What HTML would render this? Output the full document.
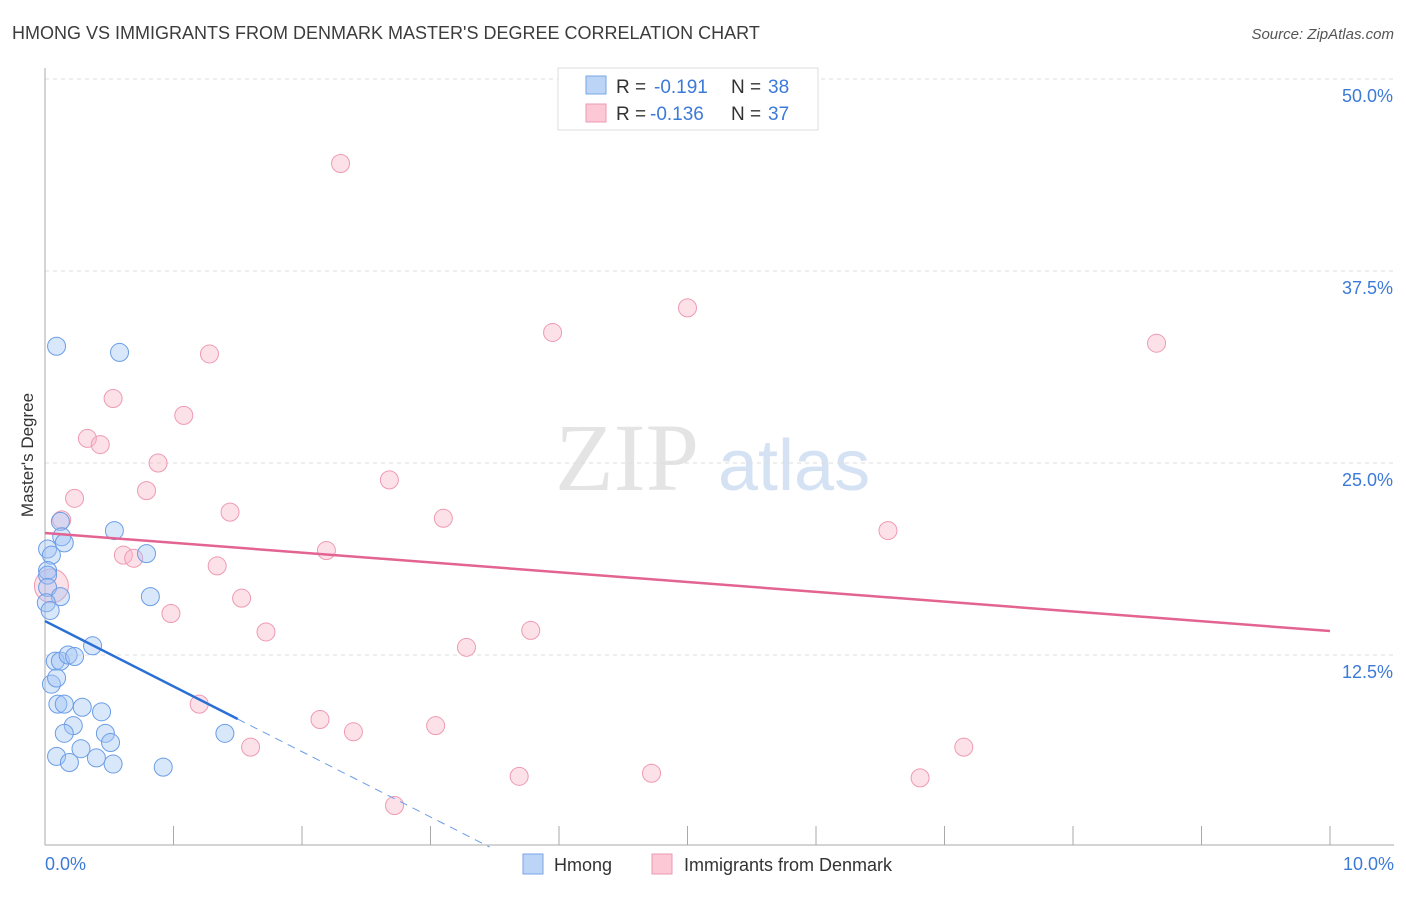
<!DOCTYPE html>
<html><head><meta charset="utf-8"><style>
body{margin:0;background:#fff;font-family:"Liberation Sans",sans-serif}
</style></head><body>
<svg id="c" width="1406" height="892" xmlns="http://www.w3.org/2000/svg">
<text x="12" y="39" font-size="18" fill="#3c3c3c">HMONG VS IMMIGRANTS FROM DENMARK MASTER'S DEGREE CORRELATION CHART</text>
<text x="1394" y="39" font-size="15" fill="#555" font-style="italic" text-anchor="end">Source: ZipAtlas.com</text>
<text x="33" y="455" font-size="17" fill="#333" text-anchor="middle" transform="rotate(-90 33 455)">Master's Degree</text>
<text x="555" y="490" font-size="96" fill="#e4e4e4" font-family="Liberation Serif,serif">ZIP</text>
<text x="718" y="490" font-size="72" fill="#d4e2f4">atlas</text>
<g id="grid"></g><g id="pts"></g><g id="lines"></g>
<g>
<rect x="558" y="68" width="260" height="62" fill="#fff" stroke="#ddd"/>
<rect x="586" y="76" width="20" height="18" fill="#bcd4f6" stroke="#7aa6e6"/>
<rect x="586" y="104" width="20" height="18" fill="#fcc8d6" stroke="#ee9ab2"/>
<text y="93" font-size="19" fill="#333"><tspan x="616">R =</tspan><tspan x="654" fill="#3c7ad8">-0.191</tspan><tspan x="731">N =</tspan><tspan x="768" fill="#3c7ad8">38</tspan></text>
<text y="120" font-size="19" fill="#333"><tspan x="616">R =</tspan><tspan x="650" fill="#3c7ad8">-0.136</tspan><tspan x="731">N =</tspan><tspan x="768" fill="#3c7ad8">37</tspan></text>
</g>
<g>
<rect x="523" y="854" width="20" height="20" fill="#bcd4f6" stroke="#7aa6e6"/>
<text x="554" y="871" font-size="18" fill="#333">Hmong</text>
<rect x="652" y="854" width="20" height="20" fill="#fcc8d6" stroke="#ee9ab2"/>
<text x="684" y="871" font-size="18" fill="#333">Immigrants from Denmark</text>
</g>
</svg>
<script>
const yTicks=[12.5,25,37.5,50];
const yTickLabels=["12.5%","25.0%","37.5%","50.0%"];
const hmongX=[0.09,0.58,0.12,0.54,0.13,0.15,0.02,0.05,0.79,0.02,0.02,0.02,0.12,0.82,0.01,0.04,0.37,0.08,0.12,0.18,0.23,0.05,0.09,0.1,0.15,0.29,0.44,0.22,0.15,0.47,0.51,1.40,0.28,0.09,0.19,0.40,0.53,0.92];
const hmongY=[32.6,32.2,21.2,20.6,20.2,19.8,19.4,19.0,19.1,18.0,17.7,16.9,16.3,16.3,15.9,15.4,13.1,12.1,12.1,12.5,12.4,10.6,11.0,9.3,9.3,9.1,8.8,7.9,7.4,7.4,6.8,7.4,6.4,5.9,5.5,5.8,5.4,5.2];
const denX=[2.30,5.00,3.95,8.65,1.28,0.53,1.08,0.33,0.43,0.88,0.79,0.23,2.68,1.44,3.10,0.13,6.56,2.19,0.61,0.69,1.34,0.05,1.53,0.98,1.72,3.78,3.28,1.20,2.14,2.40,3.04,1.60,7.15,3.69,4.72,6.81,2.72];
const denY=[44.5,35.1,33.5,32.8,32.1,29.2,28.1,26.6,26.2,25.0,23.2,22.7,23.9,21.8,21.4,21.3,20.6,19.3,19.0,18.8,18.3,17.0,16.2,15.2,14.0,14.1,13.0,9.3,8.3,7.5,7.9,6.5,6.5,4.6,4.8,4.5,2.7];
const hmongLine=[14.71,8.33], hmongLineX=[0,1.5], hmongDashEnd=3.46;
const denLine=[20.44,14.06];
const X=v=>45+v*128.5, Y=v=>847-v*15.36;
const NS="http://www.w3.org/2000/svg";
function mk(t,a,p){const e=document.createElementNS(NS,t);for(const k in a)e.setAttribute(k,a[k]);p.appendChild(e);return e;}
const grid=document.getElementById('grid');
yTicks.forEach((t,i)=>{
 const l=mk('line',{x1:45,x2:1394,y1:Y(t),y2:Y(t),stroke:'#ddd','stroke-dasharray':'4,4'},grid);
 
 
 const tx=mk('text',{x:1393,y:Y(t)+23,'font-size':18,fill:'#3c7ad8','text-anchor':'end'},grid);
 tx.textContent=yTickLabels[i];
 
 
});
mk('line',{x1:45,x2:1394,y1:Y(0)-2,y2:Y(0)-2,stroke:'#aaa'},grid);
mk('line',{x1:45,x2:45,y1:68,y2:845,stroke:'#aaa'},grid);
for(let i=0;i<=10;i++){const x=X(i);mk('line',{x1:x,x2:x,y1:826,y2:845,stroke:'#aaa'},grid);}
const t0=mk('text',{x:45,y:870,'font-size':18,fill:'#3c7ad8'},grid);t0.textContent='0.0%';


const t1=mk('text',{x:1394,y:870,'font-size':18,fill:'#3c7ad8','text-anchor':'end'},grid);t1.textContent='10.0%';


const pts=document.getElementById('pts');
denX.forEach((v,i)=>{const c=mk('circle',{cx:X(v),cy:Y(denY[i]),r:(i==21?17:9),fill:'rgba(250,180,200,0.4)',stroke:'#ee9ab2','stroke-width':1},pts);
 
 });
hmongX.forEach((v,i)=>{const c=mk('circle',{cx:X(v),cy:Y(hmongY[i]),r:9,fill:'rgba(160,195,245,0.4)',stroke:'#6b9de6','stroke-width':1},pts);
 
 });
const lines=document.getElementById('lines');
const dl=mk('line',{x1:X(0),y1:Y(denLine[0]),x2:X(10),y2:Y(denLine[1]),stroke:'#e36391','stroke-width':2.5},lines);


const hl=mk('line',{x1:X(hmongLineX[0]),y1:Y(hmongLine[0]),x2:X(hmongLineX[1]),y2:Y(hmongLine[1]),stroke:'#2a6fd6','stroke-width':2.5},lines);


const hd=mk('line',{x1:X(hmongLineX[1]),y1:Y(hmongLine[1]),x2:X(hmongDashEnd),y2:Y(0),stroke:'#6b9de6','stroke-width':1,'stroke-dasharray':'8,6'},lines);


</script>
</body></html>
